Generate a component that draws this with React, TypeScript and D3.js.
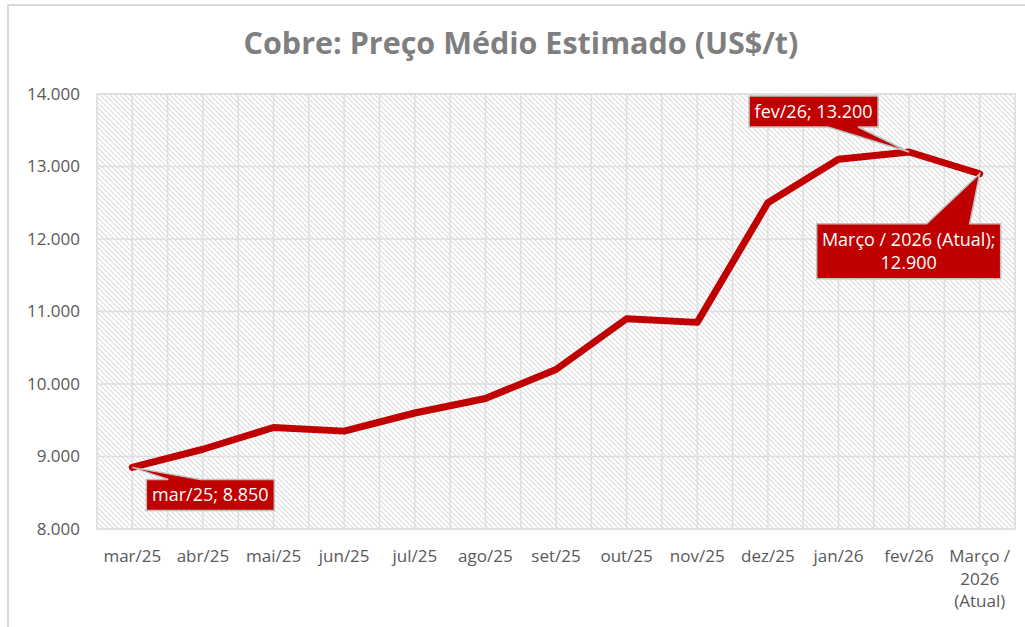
import React from 'react';
import * as d3 from 'd3';

// data
const categories = ['mar/25', 'abr/25', 'mai/25', 'jun/25', 'jul/25', 'ago/25', 'set/25', 'out/25', 'nov/25', 'dez/25', 'jan/26', 'fev/26', 'Março / 2026 (Atual)'];
const categoryLines = [['mar/25'], ['abr/25'], ['mai/25'], ['jun/25'], ['jul/25'], ['ago/25'], ['set/25'], ['out/25'], ['nov/25'], ['dez/25'], ['jan/26'], ['fev/26'], ['Março /', '2026', '(Atual)']];
const prices = [8850, 9100, 9400, 9350, 9600, 9800, 10200, 10900, 10850, 12500, 13100, 13200, 12900];
const yTicks = [8000, 9000, 10000, 11000, 12000, 13000, 14000];
const title = 'Cobre: Preço Médio Estimado (US$/t)';

const fmt = (v: number) => d3.format(',')(v).replace(/,/g, '.');

// which points get a callout, and where the box sits relative to the point
const callouts = [
  { idx: 0, lines: ['mar/25; 8.850'], dx0: 14, dx1: 142, dy0: 12, dy1: 43, side: 'top', b0: 36, b1: 68 },
  { idx: 11, lines: ['fev/26; 13.200'], dx0: -160, dx1: -31, dy0: -56, dy1: -25, side: 'bottom', b0: -81, b1: -51 },
  { idx: 12, lines: ['Março / 2026 (Atual);', '12.900'], dx0: -163, dx1: 21, dy0: 50, dy1: 105, side: 'top', b0: -53, b1: -10 },
];

const FONT = '"Open Sans", sans-serif';

export default function App() {
  const margin = { left: 97, right: 1015, top: 94, bottom: 529 };

  const x = d3.scalePoint<string>().domain(categories).range([margin.left, margin.right]).padding(0.5);
  const y = d3.scaleLinear().domain([8000, 14000]).range([margin.bottom, margin.top]);
  const half = x.step() / 2;

  // vertical grid at every half category
  const vGrid: number[] = [];
  for (let i = 1; i < categories.length * 2; i++) vGrid.push(margin.left + half * i);

  const line = d3.line<number>()
    .x((d, i) => x(categories[i]) as number)
    .y(d => y(d));

  const calloutPath = (c: typeof callouts[0]) => {
    const px = x(categories[c.idx]) as number;
    const py = y(prices[c.idx]);
    const x0 = px + c.dx0, x1 = px + c.dx1, y0 = py + c.dy0, y1 = py + c.dy1;
    const b0 = px + c.b0, b1 = px + c.b1;
    if (c.side === 'top') {
      return `M${x0},${y0}L${b0},${y0}L${px},${py}L${b1},${y0}L${x1},${y0}L${x1},${y1}L${x0},${y1}Z`;
    }
    return `M${x0},${y0}L${x1},${y0}L${x1},${y1}L${b1},${y1}L${px},${py}L${b0},${y1}L${x0},${y1}Z`;
  };

  return (
    <svg width={1025} height={627} style={{ position: 'absolute', left: 0, top: 0, fontFamily: FONT }}>
      <defs>
        <pattern id="hatch" patternUnits="userSpaceOnUse" width={5} height={5}>
          <rect width={5} height={5} fill="#ffffff" />
          <path d="M-1,-1L6,6M-1,4L1,6M4,-1L6,1" stroke="#dcdcdc" strokeWidth={1.1} />
        </pattern>
      </defs>
      <rect x={0} y={0} width={1025} height={627} fill="#ffffff" />
      <rect x={8} y={5} width={1030} height={640} fill="#ffffff" stroke="#d9d9d9" strokeWidth={2} />

      <text x={521} y={54} textAnchor="middle" fontSize={30.5} fontWeight="bold" fill="#7f7f7f">{title}</text>

      {/* plot area */}
      <rect x={margin.left} y={margin.top} width={margin.right - margin.left} height={margin.bottom - margin.top} fill="url(#hatch)" stroke="#d9d9d9" strokeWidth={1.5} />
      {vGrid.map((gx, i) => (
        <line key={'v' + i} x1={gx} x2={gx} y1={margin.top} y2={margin.bottom} stroke="#dedede" strokeWidth={1.5} />
      ))}
      {yTicks.map(t => (
        <line key={'h' + t} x1={margin.left} x2={margin.right} y1={y(t)} y2={y(t)} stroke="#dedede" strokeWidth={1.5} />
      ))}

      {yTicks.map(t => (
        <text key={'yl' + t} x={80} y={y(t)} dy="0.35em" textAnchor="end" fontSize={17} fill="#595959">{fmt(t)}</text>
      ))}

      {categoryLines.map((lines, i) => (
        <text key={'xl' + i} x={x(categories[i])} y={562} textAnchor="middle" fontSize={17} fill="#595959">
          {lines.map((l, j) => (
            <tspan key={j} x={x(categories[i])} dy={j === 0 ? 0 : 22.5}>{l}</tspan>
          ))}
        </text>
      ))}

      <path d={line(prices) || ''} fill="none" stroke="#c00000" strokeWidth={7} strokeLinejoin="round" strokeLinecap="round" />

      {callouts.map((c, k) => {
        const px = x(categories[c.idx]) as number;
        const py = y(prices[c.idx]);
        const cx = px + (c.dx0 + c.dx1) / 2;
        const cy = py + (c.dy0 + c.dy1) / 2;
        const lh = 23;
        return (
          <g key={'c' + k}>
            <path d={calloutPath(c)} fill="#c00000" stroke="#bfbfbf" strokeWidth={1.5} />
            <text x={cx} y={cy - ((c.lines.length - 1) * lh) / 2} textAnchor="middle" fontSize={18} fill="#ffffff">
              {c.lines.map((l, j) => (
                <tspan key={j} x={cx} dy={j === 0 ? '0.36em' : lh}>{l}</tspan>
              ))}
            </text>
          </g>
        );
      })}
    </svg>
  );
}
